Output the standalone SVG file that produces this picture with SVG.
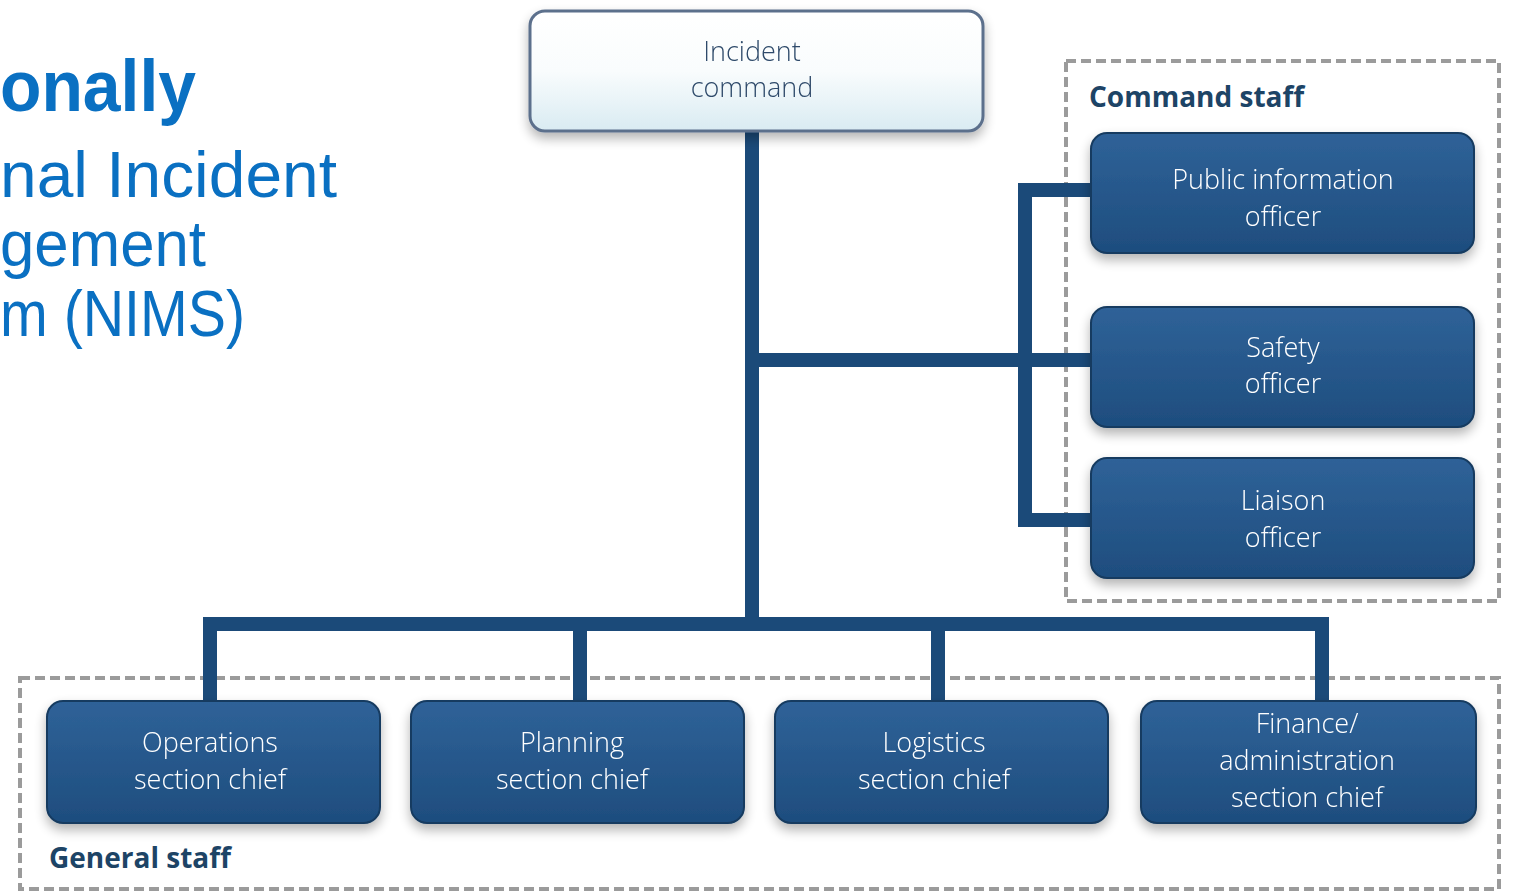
<svg xmlns="http://www.w3.org/2000/svg" width="1513" height="893" viewBox="0 0 1513 893">
<defs>
<linearGradient id="gBlue" x1="0" y1="0" x2="0" y2="1">
<stop offset="0" stop-color="#2f6298"/>
<stop offset="1" stop-color="#1e4d7e"/>
</linearGradient>
<linearGradient id="gWhite" x1="0" y1="0" x2="0" y2="1">
<stop offset="0" stop-color="#ffffff"/>
<stop offset="0.5" stop-color="#f9fcfd"/>
<stop offset="1" stop-color="#d9ebf2"/>
</linearGradient>
<filter id="sh" x="-10%" y="-20%" width="120%" height="150%">
<feGaussianBlur in="SourceAlpha" stdDeviation="6"/>
<feOffset dx="0" dy="6" result="b"/>
<feComponentTransfer><feFuncA type="linear" slope="0.3"/></feComponentTransfer>
<feMerge><feMergeNode/><feMergeNode in="SourceGraphic"/></feMerge>
</filter>
</defs>
<style>
.title{font-family:"Liberation Sans",Arial,sans-serif;fill:#0a70c2}
.box{fill:url(#gBlue);stroke:#163b60;stroke-width:2}
.bt{font-family:"Open Sans","Noto Sans",sans-serif;font-size:27px;fill:#ffffff;text-anchor:middle;font-weight:300}
.it{font-family:"Open Sans","Noto Sans",sans-serif;font-size:27px;fill:#2e4a6a;text-anchor:middle;font-weight:300}
.grp{fill:none;stroke:#9b9b9b;stroke-width:4;stroke-dasharray:10 5}
.gl{font-family:"Open Sans","Noto Sans",sans-serif;font-size:28px;font-weight:700;fill:#1d4466}
.con{fill:none;stroke:#1b4a79;stroke-width:14;stroke-linejoin:miter;stroke-linecap:butt}
</style>
<rect width="1513" height="893" fill="#ffffff"/>
<g id="title">
<text class="title" x="0" y="111" font-size="72" font-weight="700" textLength="196" lengthAdjust="spacingAndGlyphs">onally</text>
<text class="title" x="0" y="197" font-size="64" textLength="337" lengthAdjust="spacingAndGlyphs">nal Incident</text>
<text class="title" x="0" y="266" font-size="64" textLength="206" lengthAdjust="spacingAndGlyphs">gement</text>
<text class="title" x="0" y="336" font-size="64" textLength="245" lengthAdjust="spacingAndGlyphs">m (NIMS)</text>
</g>
<g id="command-staff-group">
<rect class="grp" x="1066" y="61" width="433" height="540"/>
<text class="gl" x="1089" y="107">Command staff</text>
</g>
<g id="general-staff-group">
<rect class="grp" x="20" y="678" width="1479" height="211"/>
<text class="gl" x="49" y="868">General staff</text>
</g>
<g id="connectors">
<path class="con" d="M752 131 V624"/>
<path class="con" d="M752 360 H1091"/>
<path class="con" d="M1091 190 H1025 V520 H1091"/>
<path class="con" d="M210 701 V624 H1322 V701"/>
<path class="con" d="M580 624 V701"/>
<path class="con" d="M938 624 V701"/>
</g>
<g id="incident-command" filter="url(#sh)">
<rect x="530" y="11" width="453" height="120" rx="15" fill="url(#gWhite)" stroke="#5b6f8c" stroke-width="3"/>
<text class="it" x="752" y="61">Incident</text>
<text class="it" x="752" y="97">command</text>
</g>
<g id="public-information-officer" filter="url(#sh)">
<rect class="box" x="1091" y="133" width="383" height="120" rx="16"/>
<text class="bt" x="1283" y="189">Public information</text>
<text class="bt" x="1283" y="226">officer</text>
</g>
<g id="safety-officer" filter="url(#sh)">
<rect class="box" x="1091" y="307" width="383" height="120" rx="16"/>
<text class="bt" x="1283" y="357">Safety</text>
<text class="bt" x="1283" y="393">officer</text>
</g>
<g id="liaison-officer" filter="url(#sh)">
<rect class="box" x="1091" y="458" width="383" height="120" rx="16"/>
<text class="bt" x="1283" y="510">Liaison</text>
<text class="bt" x="1283" y="547">officer</text>
</g>
<g id="operations-section-chief" filter="url(#sh)">
<rect class="box" x="47" y="701" width="333" height="122" rx="16"/>
<text class="bt" x="210" y="752">Operations</text>
<text class="bt" x="210" y="789">section chief</text>
</g>
<g id="planning-section-chief" filter="url(#sh)">
<rect class="box" x="411" y="701" width="333" height="122" rx="16"/>
<text class="bt" x="572" y="752">Planning</text>
<text class="bt" x="572" y="789">section chief</text>
</g>
<g id="logistics-section-chief" filter="url(#sh)">
<rect class="box" x="775" y="701" width="333" height="122" rx="16"/>
<text class="bt" x="934" y="752">Logistics</text>
<text class="bt" x="934" y="789">section chief</text>
</g>
<g id="finance-administration-section-chief" filter="url(#sh)">
<rect class="box" x="1141" y="701" width="335" height="122" rx="16"/>
<text class="bt" x="1307" y="733">Finance/</text>
<text class="bt" x="1307" y="770">administration</text>
<text class="bt" x="1307" y="807">section chief</text>
</g>
</svg>
